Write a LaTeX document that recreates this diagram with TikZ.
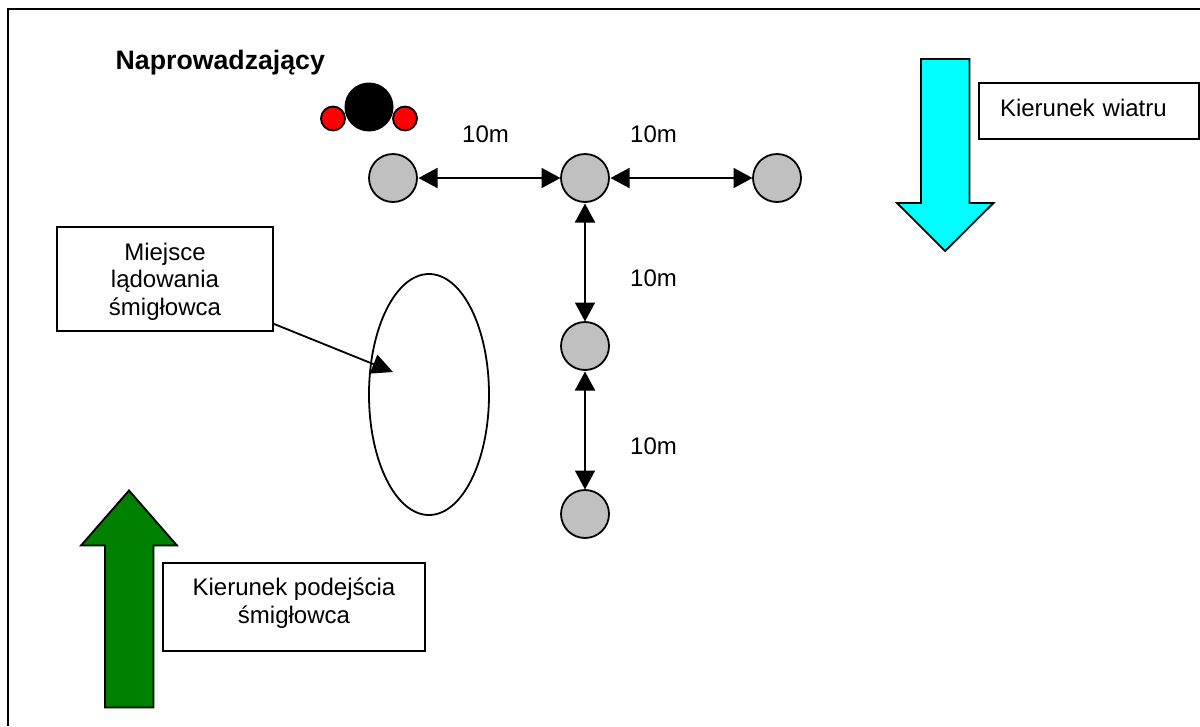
\documentclass[tikz,border=0pt]{standalone}
\usepackage{fontspec}
\setmainfont{Liberation Sans}
\usetikzlibrary{arrows.meta,shapes.geometric}
\definecolor{peggray}{HTML}{C0C0C0}
\definecolor{windcyan}{HTML}{00FFFF}
\definecolor{approachgreen}{HTML}{008000}
\tikzset{
  peg/.style={circle,draw=black,fill=peggray,line width=1.8pt,minimum size=48pt,inner sep=0pt,outer sep=0pt},
  labelbox/.style={rectangle,draw=black,fill=white,line width=1.8pt,inner sep=0pt,align=center},
  plain/.style={inner sep=0pt,anchor=base west},
  dim/.style={{Triangle[length=19pt,width=20pt]}-{Triangle[length=19pt,width=20pt]},line width=1.8pt,shorten <=1.5pt,shorten >=0.5pt},
  bigarrow/.style={draw=black,line width=1.8pt,line join=miter}
}
\begin{document}
\begin{tikzpicture}[x=1pt,y=-1pt,font=\fontsize{24}{27.5}\selectfont]
\useasboundingbox (0,0) rectangle (1200,726);
% frame (open at bottom and right)
\draw[line width=2pt] (8,726) -- (8,9.3) -- (1200,9.3);

% title
\node[plain,font=\fontsize{26.7}{30}\selectfont\bfseries] (title) at (115.5,69.5) {Naprowadzający};

% marshaller
\fill[red,draw=black,line width=1.8pt] (333,118.5) circle (12);
\fill[red,draw=black,line width=1.8pt] (405,118.5) circle (12);
\fill[black] (369,107) circle (24.5);

% pegs
\node[peg] (p1) at (393,178) {};
\node[peg] (p2) at (585,178) {};
\node[peg] (p3) at (777,178) {};
\node[peg] (p4) at (585,346) {};
\node[peg] (p5) at (585,514) {};

\draw[dim] (p1) -- (p2);
\draw[dim] (p2) -- (p3);
\draw[dim] (p2) -- (p4);
\draw[dim] (p4) -- (p5);

% distance labels
\node[plain] (d1) at (462,142) {10m};
\node[plain] (d2) at (630,142) {10m};
\node[plain] (d3) at (630,286) {10m};
\node[plain] (d4) at (630,454) {10m};

% landing site
\node[ellipse,draw=black,line width=1.8pt,minimum width=120pt,minimum height=241pt,inner sep=0pt] (site) at (429,394.5) {};
\coordinate (sitepoint) at (393,372);

% boxes
\node[labelbox,minimum width=216pt,text height=88pt,text depth=16pt] (landing) at (165,279)
  {Miejsce\\lądowania\\śmigłowca};
\draw[-{Triangle[length=21pt,width=20pt]},line width=1.8pt] ([yshift=8pt]landing.south east) -- (sitepoint);

\node[labelbox,minimum width=262pt,text height=60pt,text depth=28pt] (approach) at (294,607)
  {Kierunek podejścia\\śmigłowca};

\node[labelbox,align=left,text width=178pt,inner xsep=21pt,text height=33pt,text depth=23pt] (wind) at (1089,111)
  {Kierunek wiatru};

% big arrows
\filldraw[bigarrow,fill=windcyan] (921,59) -- (969.5,59) -- (969.5,203) -- (993.5,203) -- (945.2,251) -- (897,203) -- (921,203) -- cycle;
\filldraw[bigarrow,fill=approachgreen] (105,707.5) -- (153.5,707.5) -- (153.5,545.5) -- (177,545.5) -- (129,490.5) -- (81,545.5) -- (105,545.5) -- cycle;
\end{tikzpicture}
\end{document}
